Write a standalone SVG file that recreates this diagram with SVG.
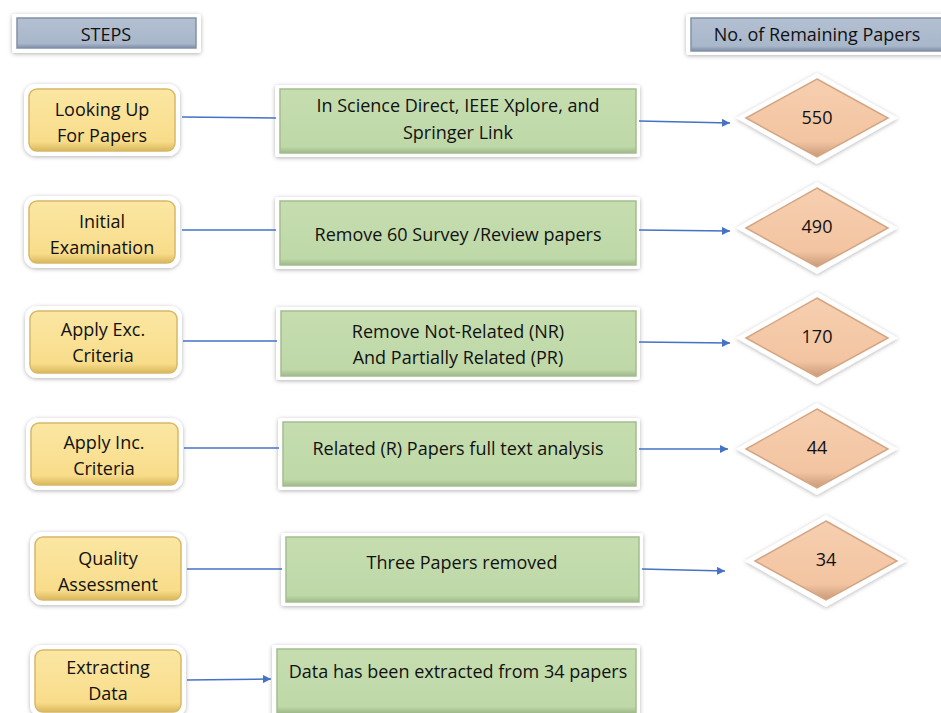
<svg xmlns="http://www.w3.org/2000/svg" width="941" height="713" viewBox="0 0 941 713">
<defs>
<filter id="sh" x="-10%" y="-20%" width="120%" height="140%">
<feDropShadow dx="0" dy="1" stdDeviation="2" flood-color="#000" flood-opacity="0.3"/>
</filter>
<linearGradient id="gy" x1="0" y1="0" x2="0" y2="1">
<stop offset="0" stop-color="#fbe7a3"/><stop offset="0.85" stop-color="#f8dc8a"/><stop offset="1" stop-color="#d9b85c"/>
</linearGradient>
<linearGradient id="gg" x1="0" y1="0" x2="0" y2="1">
<stop offset="0" stop-color="#c6deaf"/><stop offset="0.9" stop-color="#bfd8a8"/><stop offset="1" stop-color="#9fb98a"/>
</linearGradient>
<linearGradient id="gb" x1="0" y1="0" x2="0" y2="1">
<stop offset="0" stop-color="#b3c0d2"/><stop offset="0.85" stop-color="#a9b7cb"/><stop offset="1" stop-color="#7f8ea6"/>
</linearGradient>
<linearGradient id="gp" x1="0" y1="0" x2="0" y2="1">
<stop offset="0" stop-color="#f6cfb0"/><stop offset="0.8" stop-color="#f3c4a1"/><stop offset="1" stop-color="#c99a78"/>
</linearGradient>
<marker id="ar" viewBox="0 0 10 10" refX="10" refY="5" markerWidth="8" markerHeight="8" markerUnits="userSpaceOnUse" orient="auto">
<path d="M0,0 L10,5 L0,10 z" fill="#4472c4"/>
</marker>
<style>
.fr{fill:#fff;filter:url(#sh)}
.y{fill:url(#gy);stroke:#d8b868;stroke-width:1.5}
.g{fill:url(#gg);stroke:#a3bd8e;stroke-width:1.5}
.b{fill:url(#gb);stroke:#8291a8;stroke-width:1.5}
.p{fill:url(#gp);stroke:#d3a583;stroke-width:1.5}
text{font-family:"Open Sans","Liberation Sans",sans-serif;font-size:18px;fill:#111;text-anchor:middle;dominant-baseline:middle}
.c line{stroke:#4472c4;stroke-width:1.5}
</style>
</defs>

<g id="hdr-steps">
<rect class="fr" x="12" y="14" width="189" height="39" rx="3"/>
<rect class="b" x="17" y="18" width="179" height="30"/>
<text x="106" y="36">STEPS</text>
</g>
<g id="hdr-remaining">
<rect class="fr" x="686" y="14" width="262" height="41" rx="3"/>
<rect class="b" x="691" y="18" width="255" height="33"/>
<text x="817" y="36">No. of Remaining Papers</text>
</g>

<g id="step1">
<rect class="fr" x="24" y="84" width="156" height="72" rx="12"/>
<rect class="y" x="29" y="89" width="146" height="62" rx="8"/>
<text x="102" y="111">Looking Up</text><text x="102" y="137">For Papers</text>
</g>
<g id="desc1">
<rect class="fr" x="275" y="85" width="365" height="72" rx="3"/>
<rect class="g" x="280" y="89" width="356" height="64"/>
<text x="458" y="107">In Science Direct, IEEE Xplore, and</text><text x="458" y="134">Springer Link</text>
</g>
<g id="count1">
<polygon class="fr" points="817,73 898,118 817,164 736,118"/>
<polygon class="p" points="817,79 888,118 817,157 746,118"/>
<text x="817" y="119">550</text>
</g>

<g id="step2">
<rect class="fr" x="24" y="196" width="156" height="72" rx="12"/>
<rect class="y" x="29" y="201" width="146" height="62" rx="8"/>
<text x="102" y="223">Initial</text><text x="102" y="249">Examination</text>
</g>
<g id="desc2">
<rect class="fr" x="275" y="197" width="365" height="72" rx="3"/>
<rect class="g" x="280" y="201" width="356" height="64"/>
<text x="458" y="236">Remove 60 Survey /Review papers</text>
</g>
<g id="count2">
<polygon class="fr" points="817,182 898,228 817,274 736,228"/>
<polygon class="p" points="817,188 888,228 817,267 746,228"/>
<text x="817" y="228">490</text>
</g>

<g id="step3">
<rect class="fr" x="25" y="306" width="157" height="72" rx="12"/>
<rect class="y" x="30" y="311" width="147" height="62" rx="8"/>
<text x="103" y="331">Apply Exc.</text><text x="103" y="357">Criteria</text>
</g>
<g id="desc3">
<rect class="fr" x="276" y="307" width="364" height="73" rx="3"/>
<rect class="g" x="281" y="311" width="355" height="65"/>
<text x="458" y="333">Remove Not-Related (NR)</text><text x="458" y="359">And Partially Related (PR)</text>
</g>
<g id="count3">
<polygon class="fr" points="817,292 898,338 817,384 736,338"/>
<polygon class="p" points="817,298 888,338 817,377 746,338"/>
<text x="817" y="338">170</text>
</g>

<g id="step4">
<rect class="fr" x="26" y="418" width="157" height="72" rx="12"/>
<rect class="y" x="31" y="423" width="147" height="62" rx="8"/>
<text x="104" y="444">Apply Inc.</text><text x="104" y="470">Criteria</text>
</g>
<g id="desc4">
<rect class="fr" x="278" y="418" width="362" height="72" rx="3"/>
<rect class="g" x="283" y="422" width="353" height="64"/>
<text x="458" y="450">Related (R) Papers full text analysis</text>
</g>
<g id="count4">
<polygon class="fr" points="817,403 898,449 817,495 736,449"/>
<polygon class="p" points="817,409 888,449 817,488 746,449"/>
<text x="817" y="449">44</text>
</g>

<g id="step5">
<rect class="fr" x="30" y="532" width="156" height="73" rx="12"/>
<rect class="y" x="35" y="537" width="146" height="63" rx="8"/>
<text x="108" y="560">Quality</text><text x="108" y="586">Assessment</text>
</g>
<g id="desc5">
<rect class="fr" x="281" y="533" width="362" height="73" rx="3"/>
<rect class="g" x="286" y="537" width="353" height="65"/>
<text x="462" y="564">Three Papers removed</text>
</g>
<g id="count5">
<polygon class="fr" points="826,515 907,561 826,607 745,561"/>
<polygon class="p" points="826,521 897,561 826,600 755,561"/>
<text x="826" y="561">34</text>
</g>

<g id="step6">
<rect class="fr" x="30" y="645" width="156" height="72" rx="12"/>
<rect class="y" x="35" y="650" width="146" height="62" rx="8"/>
<text x="108" y="669">Extracting</text><text x="108" y="695">Data</text>
</g>
<g id="desc6">
<rect class="fr" x="272" y="645" width="368" height="72" rx="3"/>
<rect class="g" x="277" y="649" width="359" height="64"/>
<text x="458" y="673">Data has been extracted from 34 papers</text>
</g>

<g class="c" id="connectors">
<line x1="182" y1="117" x2="276" y2="118"/>
<line x1="639" y1="121" x2="730" y2="123" marker-end="url(#ar)"/>
<line x1="182" y1="230" x2="276" y2="230"/>
<line x1="639" y1="230" x2="730" y2="231" marker-end="url(#ar)"/>
<line x1="183" y1="341" x2="277" y2="341"/>
<line x1="639" y1="342" x2="730" y2="343" marker-end="url(#ar)"/>
<line x1="184" y1="448" x2="279" y2="448"/>
<line x1="639" y1="449" x2="728" y2="449" marker-end="url(#ar)"/>
<line x1="187" y1="569" x2="282" y2="569"/>
<line x1="642" y1="569" x2="725" y2="571" marker-end="url(#ar)"/>
<line x1="187" y1="680" x2="271" y2="679" marker-end="url(#ar)"/>
</g>
</svg>
